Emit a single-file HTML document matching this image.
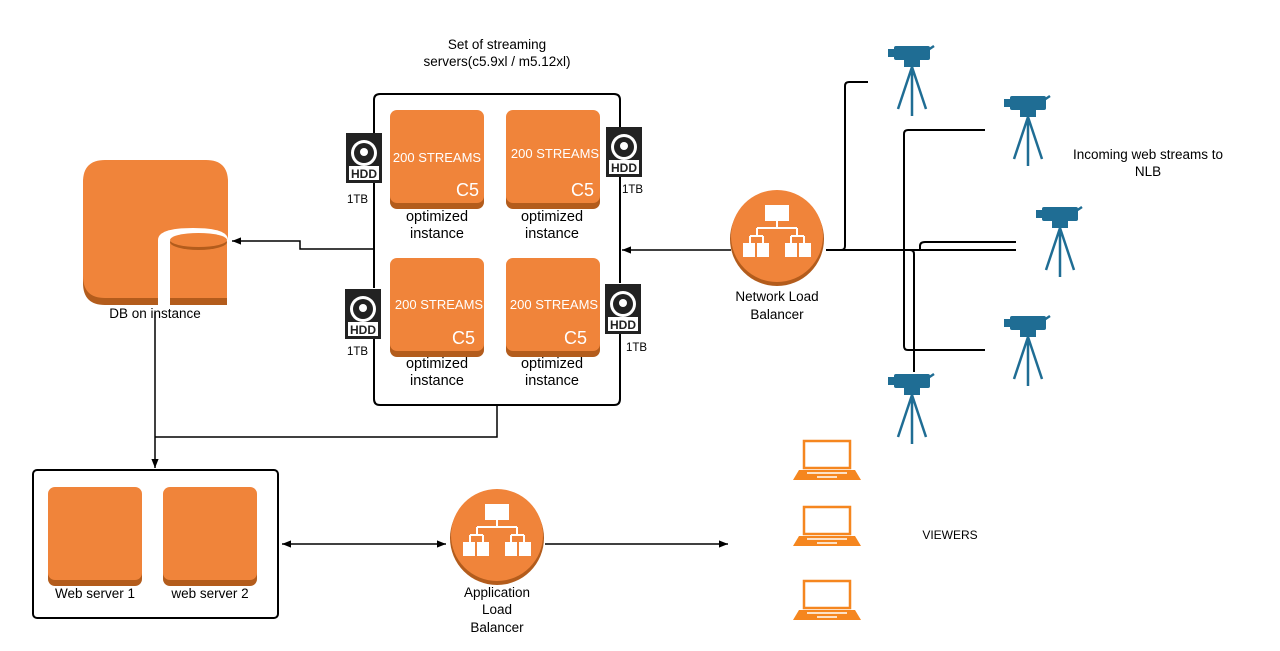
<!DOCTYPE html>
<html><head><meta charset="utf-8"><style>
html,body{margin:0;padding:0;background:#fff;}
svg{display:block;font-family:"Liberation Sans",sans-serif;}
</style></head><body>
<svg width="1280" height="651" viewBox="0 0 1280 651" xmlns="http://www.w3.org/2000/svg">
<defs>
<marker id="ar" viewBox="0 0 10 10" refX="10" refY="5" markerWidth="9" markerHeight="9" orient="auto-start-reverse" markerUnits="userSpaceOnUse"><path d="M0,1 L10,5 L0,9 z" fill="#000"/></marker>
<g id="inst"><rect x="0" y="3" width="94" height="96" rx="7" fill="#b35c1c"/><rect x="0" y="0" width="94" height="93" rx="7" fill="#f0843a"/></g>
<g id="hdd"><rect x="0" y="0" width="36" height="50" fill="#222"/><circle cx="18" cy="20" r="13" fill="#fff"/><circle cx="18" cy="20" r="10" fill="#222"/><circle cx="18" cy="19" r="4" fill="#fff"/><rect x="3" y="33" width="30" height="14" fill="#fff"/><text x="18" y="45" font-size="12" font-weight="bold" text-anchor="middle" fill="#222">HDD</text></g>
<g id="cam" stroke="#1f6d94" stroke-width="2.5" fill="none"><rect x="10" y="0" width="36" height="14" rx="2" fill="#1f6d94" stroke="none"/><rect x="4" y="3" width="8" height="8" fill="#1f6d94" stroke="none"/><path d="M44,4 L50,0" /><rect x="20" y="14" width="16" height="7" fill="#1f6d94" stroke="none"/><path d="M28,21 V70 M28,21 L14,63 M28,21 L42,63"/></g>
<g id="lap" fill="none" stroke="#f5861f" stroke-width="2.5"><rect x="11" y="1" width="46" height="27"/><path d="M0,40 L68,40 L62,30 L6,30 Z" fill="#f5861f" stroke="none"/><path d="M14,33 H54" stroke="#fff" stroke-width="1.5"/><path d="M24,37 H44" stroke="#fff" stroke-width="1.5"/></g>
<g id="lb"><circle cx="0" cy="3" r="47" fill="#b35c1c"/><circle cx="0" cy="0" r="46" fill="#f0843a"/>
<path d="M0,-16 V-8 M-20,-8 H20 M-20,-8 V0 M20,-8 V0 M-27,0 H-14 M14,0 H27 M-27,0 V7 M-14,0 V7 M14,0 V7 M27,0 V7" fill="none" stroke="#fff" stroke-width="2"/>
<g fill="#fff"><rect x="-12" y="-31" width="24" height="16"/><rect x="-34" y="7" width="12" height="14"/><rect x="-20" y="7" width="12" height="14"/><rect x="8" y="7" width="12" height="14"/><rect x="22" y="7" width="12" height="14"/></g></g>
</defs>

<text x="497" y="49" font-size="13.5" text-anchor="middle">Set of streaming</text>
<text x="497" y="66" font-size="13.5" text-anchor="middle">servers(c5.9xl /  m5.12xl)</text>
<path d="M374,133 V100 Q374,94 380,94 H614 Q620,94 620,100 V127 M620,177 V283 M620,333 V399 Q620,405 614,405 H380 Q374,405 374,399 V337 M374,288 V183" fill="none" stroke="#000" stroke-width="2"/>
<use href="#inst" x="390" y="110"/><use href="#inst" x="506" y="110"/>
<use href="#inst" x="390" y="258"/><use href="#inst" x="506" y="258"/>
<g fill="#fff" font-size="13"><text x="437" y="162" text-anchor="middle">200 STREAMS</text><text x="555" y="158" text-anchor="middle">200 STREAMS</text>
<text x="439" y="309" text-anchor="middle">200 STREAMS</text><text x="554" y="309" text-anchor="middle">200 STREAMS</text>
<g font-size="18"><text x="456" y="196">C5</text><text x="571" y="196">C5</text><text x="452" y="344">C5</text><text x="564" y="344">C5</text></g></g>
<g font-size="14.5" text-anchor="middle"><text x="437" y="221">optimized</text><text x="437" y="238">instance</text><text x="552" y="221">optimized</text><text x="552" y="238">instance</text>
<text x="437" y="368">optimized</text><text x="437" y="385">instance</text><text x="552" y="368">optimized</text><text x="552" y="385">instance</text></g>
<use href="#hdd" x="346" y="133"/><use href="#hdd" x="606" y="127"/><use href="#hdd" x="345" y="289"/><use href="#hdd" x="605" y="284"/>
<g font-size="11.5"><text x="347" y="203">1TB</text><text x="622" y="193">1TB</text><text x="347" y="355">1TB</text><text x="626" y="351">1TB</text></g>

<path d="M83,185 Q83,163 105,163 H206 Q228,163 228,185 V305 H105 Q83,305 83,283 Z" fill="#b35c1c"/>
<path d="M83,182 Q83,160 105,160 H206 Q228,160 228,182 V298 H105 Q83,298 83,276 Z" fill="#f0843a"/>
<path d="M158,305 V240 Q158,228 193,228 Q228,228 228,240 V305 Z" fill="#fff"/>
<rect x="170" y="242" width="57" height="63" fill="#b35c1c"/>
<rect x="170" y="242" width="57" height="56" fill="#f0843a"/>
<ellipse cx="198.5" cy="242" rx="28.5" ry="8" fill="#b35c1c"/>
<ellipse cx="198.5" cy="240" rx="28.5" ry="7" fill="#f0843a"/>
<text x="155" y="318" font-size="13.5" text-anchor="middle">DB on instance</text>
<polyline points="374,249 300,249 300,241 232,241" fill="none" stroke="#000" stroke-width="1.5" marker-end="url(#ar)"/>
<polyline points="497,405 497,437 155,437" fill="none" stroke="#000" stroke-width="1.5"/>
<line x1="155" y1="312" x2="155" y2="468" stroke="#000" stroke-width="1.5" marker-end="url(#ar)"/>

<rect x="33" y="470" width="245" height="148" rx="4" fill="none" stroke="#000" stroke-width="2"/>
<use href="#inst" x="48" y="487"/><use href="#inst" x="163" y="487"/>
<text x="95" y="598" font-size="13.5" text-anchor="middle">Web server 1</text>
<text x="210" y="598" font-size="13.5" text-anchor="middle">web server 2</text>
<line x1="282" y1="544" x2="446" y2="544" stroke="#000" stroke-width="1.5" marker-start="url(#ar)" marker-end="url(#ar)"/>
<use href="#lb" x="497" y="535"/>
<g font-size="13.5" text-anchor="middle"><text x="497" y="597">Application</text><text x="497" y="614">Load</text><text x="497" y="632">Balancer</text></g>
<line x1="545" y1="544" x2="728" y2="544" stroke="#000" stroke-width="1.5" marker-end="url(#ar)"/>

<use href="#lb" x="777" y="236"/>
<g font-size="13.5" text-anchor="middle"><text x="777" y="301">Network Load</text><text x="777" y="319">Balancer</text></g>
<line x1="731" y1="250" x2="622" y2="250" stroke="#000" stroke-width="1.5" marker-end="url(#ar)"/>
<g fill="none" stroke="#000" stroke-width="2">
<path d="M868,82 H849 Q845,82 845,86 V246 Q845,250 841,250 H826"/>
<path d="M826,250 H1016"/>
<path d="M985,130 H908 Q904,130 904,134 V346 Q904,350 908,350 H985"/>
<path d="M1016,242 H925 Q920,242 920,246 V250"/>
<path d="M910,250 Q914,250 914,254 V372"/>
</g>
<use href="#cam" x="884" y="46"/><use href="#cam" x="1000" y="96"/><use href="#cam" x="1032" y="207"/><use href="#cam" x="1000" y="316"/><use href="#cam" x="884" y="374"/>
<text x="1148" y="159" font-size="13.5" text-anchor="middle">Incoming web streams to</text>
<text x="1148" y="176" font-size="13.5" text-anchor="middle">NLB</text>

<use href="#lap" x="793" y="440"/><use href="#lap" x="793" y="506"/><use href="#lap" x="793" y="580"/>
<text x="950" y="539" font-size="12" text-anchor="middle">VIEWERS</text>
</svg>
</body></html>
